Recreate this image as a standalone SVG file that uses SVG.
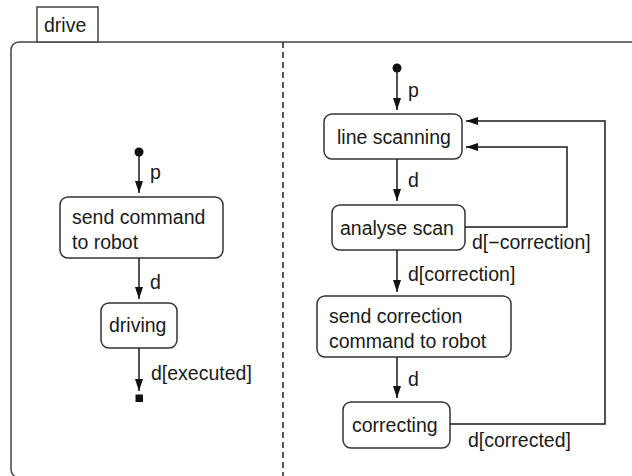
<svg xmlns="http://www.w3.org/2000/svg" width="632" height="476" viewBox="0 0 632 476">
  <style>
    text { font-family: "Liberation Sans", Arial, sans-serif; font-size: 19.5px; fill: #1a1a1a; }
    .state { fill: #ffffff; stroke: #333333; stroke-width: 1.5; }
    .edge { fill: none; stroke: #1a1a1a; stroke-width: 1.5; }
    .frame { fill: #ffffff; stroke: #444444; stroke-width: 1.5; }
  </style>
  <defs>
    <marker id="arrow" viewBox="0 0 12 8" refX="12" refY="4" markerWidth="12" markerHeight="8" markerUnits="userSpaceOnUse" orient="auto">
      <path d="M0,0 L12,4 L0,8 Z" fill="#111111"/>
    </marker>
  </defs>
  <rect width="632" height="476" fill="#ffffff"/>

  <!-- composite state frame with name tab -->
  <g id="frame">
    <rect class="frame" x="11" y="42" width="640" height="435.5" rx="8"/>
    <rect class="frame" x="37" y="7" width="61" height="35"/>
    <text x="44" y="32">drive</text>
    <line x1="283" y1="42" x2="283" y2="476" stroke="#222222" stroke-width="1.5" stroke-dasharray="6,4"/>
  </g>

  <!-- left region -->
  <g id="init-left"><circle cx="139" cy="152" r="4.5" fill="#111111"/></g>
  <g id="send-command">
    <rect class="state" x="60" y="197" width="163" height="61" rx="8"/>
    <text x="72" y="224">send command</text>
    <text x="72" y="249">to robot</text>
  </g>
  <g id="driving">
    <rect class="state" x="101" y="303" width="76" height="45" rx="8"/>
    <text x="109" y="332">driving</text>
  </g>
  <g id="final-left"><rect x="135.5" y="394.5" width="7.5" height="7.5" fill="#111111"/></g>

  <!-- right region -->
  <g id="init-right"><circle cx="397" cy="68" r="4.5" fill="#111111"/></g>
  <g id="line-scanning">
    <rect class="state" x="324" y="114" width="138" height="45" rx="8"/>
    <text x="337" y="144">line scanning</text>
  </g>
  <g id="analyse-scan">
    <rect class="state" x="332" y="205" width="133" height="45" rx="8"/>
    <text x="340" y="235">analyse scan</text>
  </g>
  <g id="send-correction">
    <rect class="state" x="317" y="296" width="194" height="61" rx="8"/>
    <text x="329" y="323">send correction</text>
    <text x="329" y="348">command to robot</text>
  </g>
  <g id="correcting">
    <rect class="state" x="343" y="402" width="107" height="46" rx="8"/>
    <text x="352" y="432">correcting</text>
  </g>

  <!-- transitions -->
  <g id="connectors">
    <line class="edge" x1="139" y1="152" x2="139" y2="193" marker-end="url(#arrow)"/>
    <line class="edge" x1="139" y1="258" x2="139" y2="299" marker-end="url(#arrow)"/>
    <line class="edge" x1="139" y1="348" x2="139" y2="391" marker-end="url(#arrow)"/>

    <line class="edge" x1="397" y1="68" x2="397" y2="110" marker-end="url(#arrow)"/>
    <line class="edge" x1="397" y1="159" x2="397" y2="201" marker-end="url(#arrow)"/>
    <line class="edge" x1="397" y1="250" x2="397" y2="292" marker-end="url(#arrow)"/>
    <line class="edge" x1="397" y1="357" x2="397" y2="398" marker-end="url(#arrow)"/>

    <polyline class="edge" points="465,227 567,227 567,147 466,147" marker-end="url(#arrow)"/>
    <polyline class="edge" points="450,424 605,424 605,121 466,121" marker-end="url(#arrow)"/>

    <text x="150" y="179">p</text>
    <text x="150" y="289">d</text>
    <text x="151" y="380">d[executed]</text>
    <text x="408" y="97">p</text>
    <text x="408" y="187">d</text>
    <text x="408" y="281">d[correction]</text>
    <text x="408" y="386">d</text>
    <text x="472" y="249">d[−correction]</text>
    <text x="468" y="447">d[corrected]</text>
  </g>
</svg>
